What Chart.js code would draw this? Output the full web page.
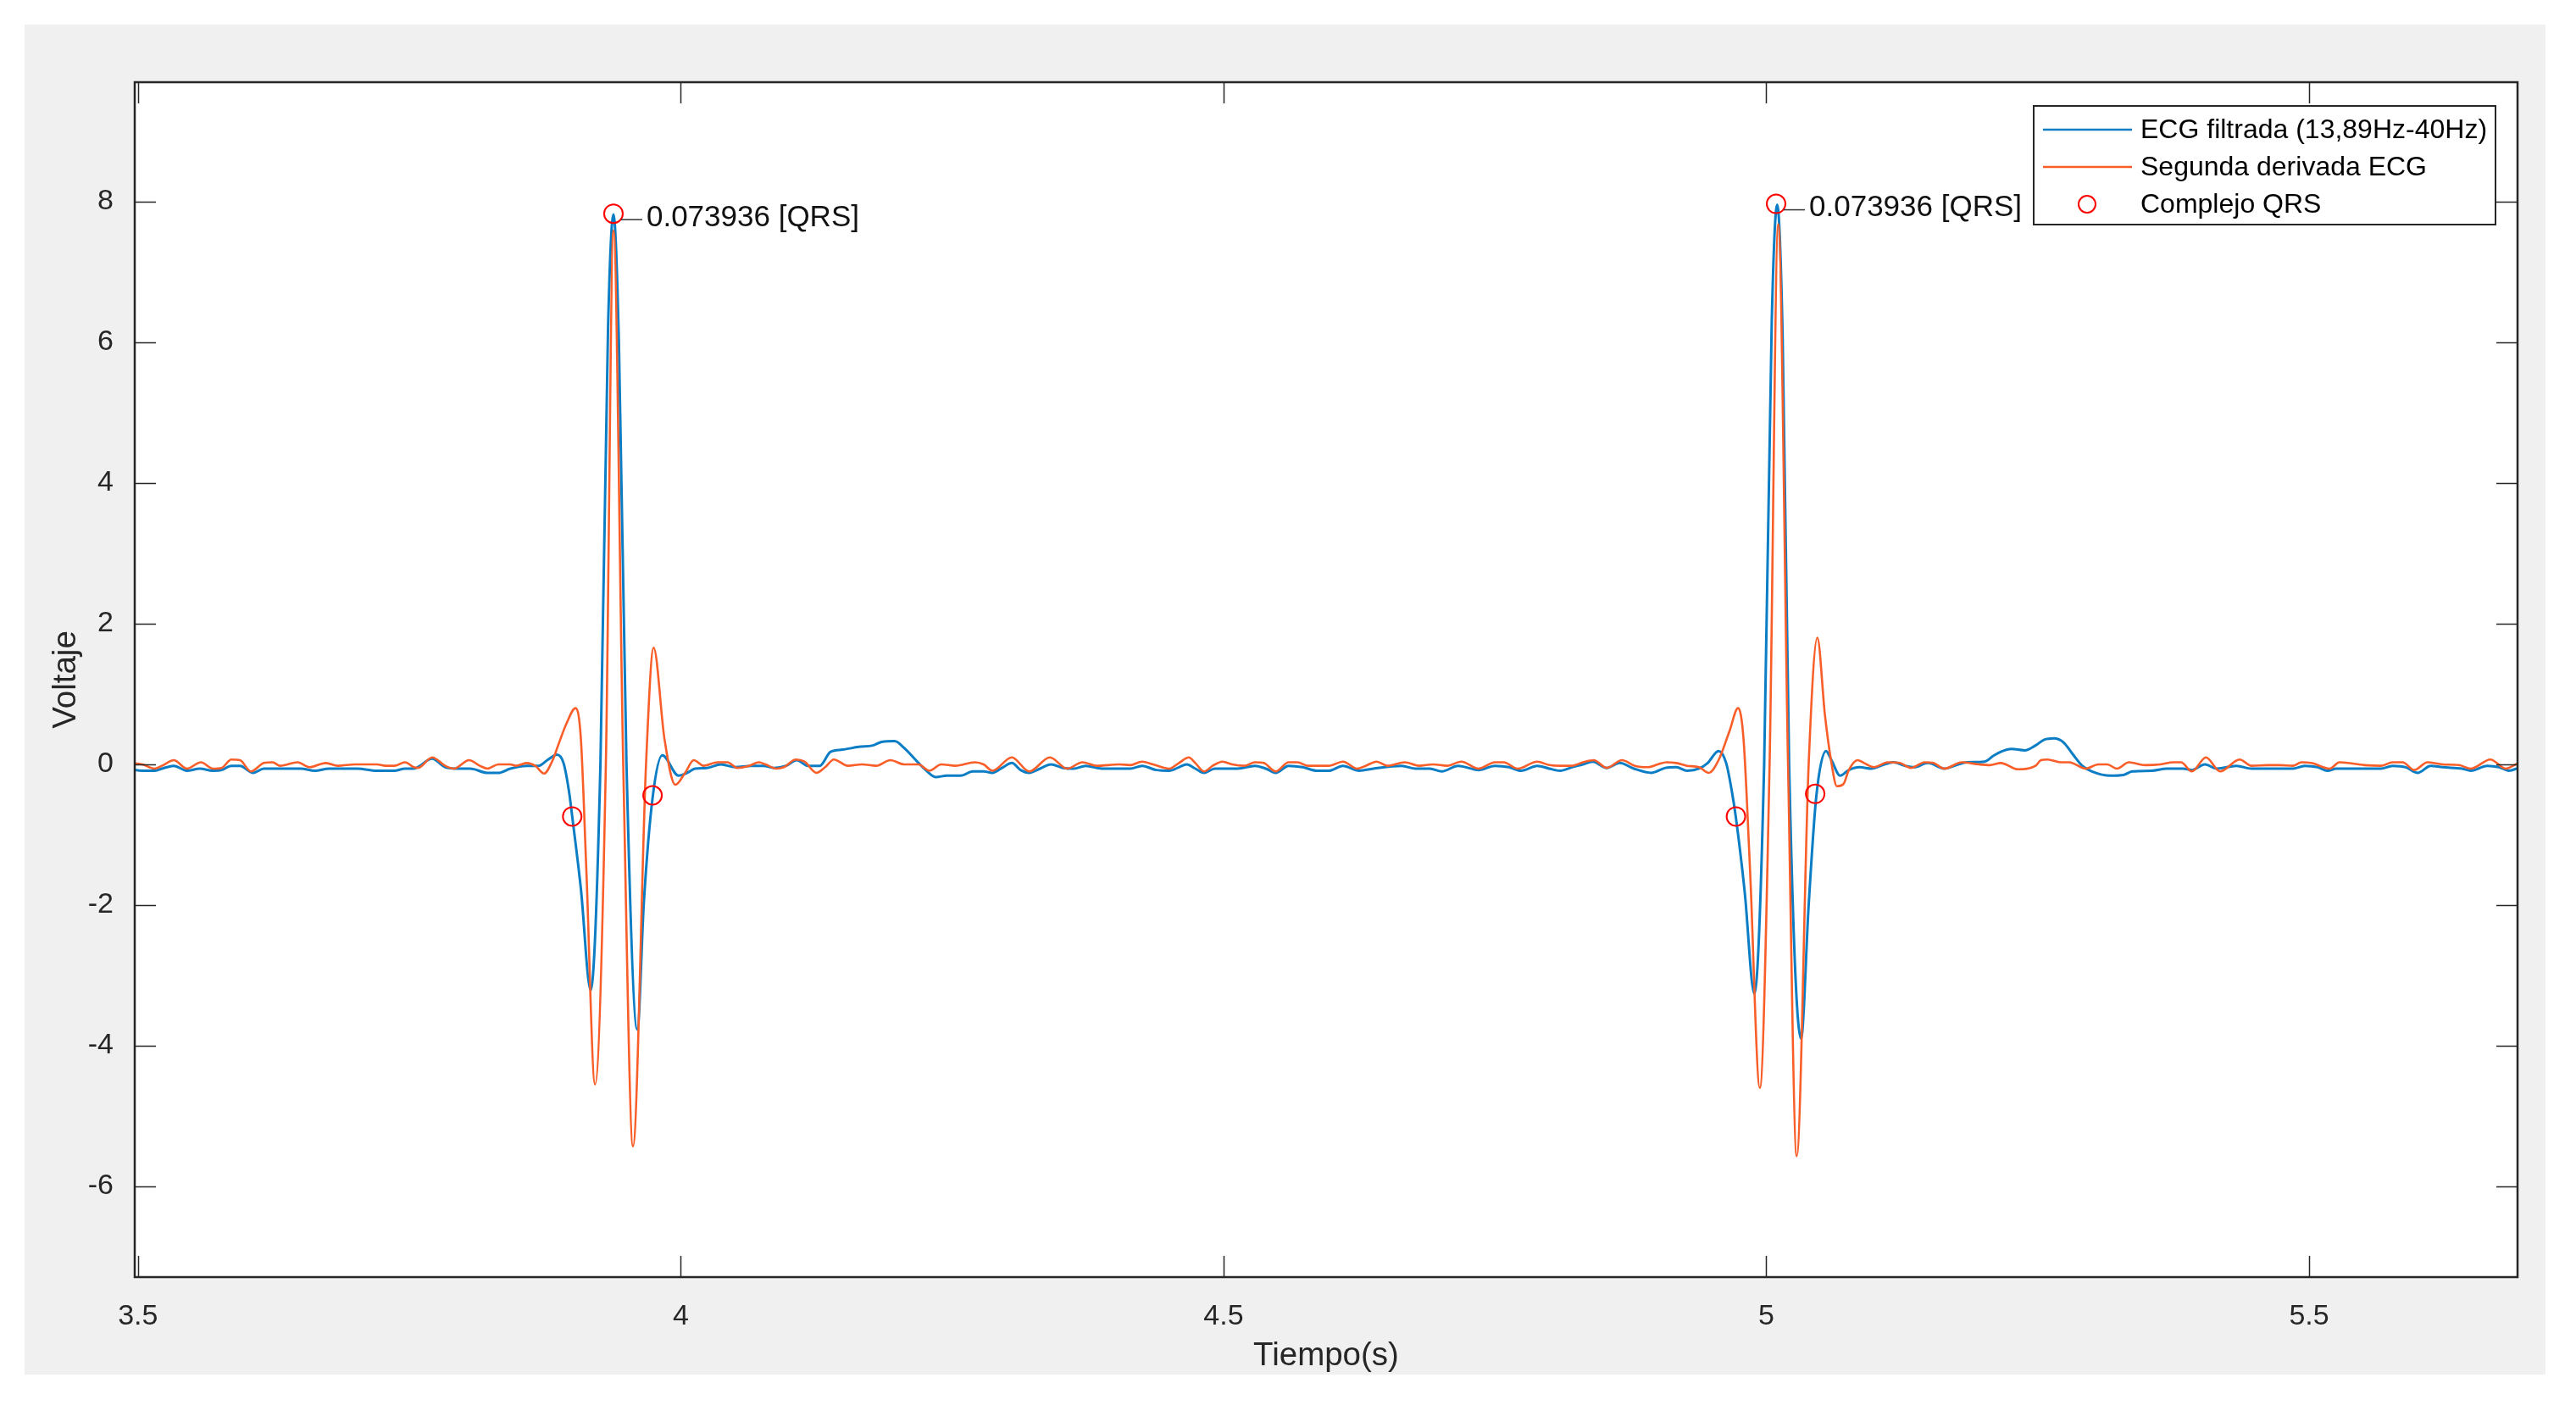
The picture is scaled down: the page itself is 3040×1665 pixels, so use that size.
<!DOCTYPE html>
<html>
<head>
<meta charset="utf-8">
<title>ECG filtrada y segunda derivada</title>
<script src="https://cdn.jsdelivr.net/npm/chart.js@4.4.1/dist/chart.umd.min.js"></script>
<style>
  html, body { margin: 0; padding: 0; background: #ffffff; }
  #grafico { display: block; }
</style>
</head>
<body>
<canvas id="grafico" width="3040" height="1665"></canvas>
<script>
// valores: [tiempo (s), voltaje]
const ecgFiltrada = [
  [3.490, -0.06], [3.504, -0.09], [3.515, -0.09], [3.522, -0.06], [3.533, -0.02], [3.545, -0.09], [3.557, -0.06], [3.569, -0.09], [3.577, -0.08], [3.586, -0.02],
  [3.594, -0.02], [3.606, -0.12], [3.616, -0.06], [3.650, -0.06], [3.663, -0.09], [3.676, -0.06], [3.702, -0.06], [3.720, -0.09], [3.736, -0.09], [3.746, -0.06],
  [3.754, -0.06], [3.771, 0.08], [3.783, -0.04], [3.795, -0.06], [3.806, -0.06], [3.822, -0.12], [3.832, -0.12], [3.843, -0.06], [3.858, -0.02], [3.869, -0.02],
  [3.877, 0.06], [3.886, 0.14], [3.892, 0.02], [3.897, -0.38], [3.900, -0.74], [3.908, -1.77], [3.917, -3.21], [3.926, 0.0], [3.933, 6.2], [3.938, 7.82],
  [3.943, 6.0], [3.950, 0.0], [3.960, -3.77], [3.966, -1.96], [3.974, -0.48], [3.983, 0.13], [3.998, -0.16], [4.006, -0.12], [4.013, -0.06], [4.024, -0.05],
  [4.037, 0.0], [4.050, -0.04],
  [4.065, -0.02], [4.076, -0.02], [4.086, -0.05], [4.097, -0.02], [4.107, 0.06], [4.117, -0.02], [4.128, -0.02], [4.138, 0.18], [4.149, 0.21], [4.164, 0.25],
  [4.177, 0.27], [4.185, 0.32], [4.197, 0.33], [4.206, 0.23], [4.219, 0.02], [4.227, -0.10], [4.235, -0.18], [4.245, -0.16], [4.258, -0.16], [4.269, -0.10],
  [4.279, -0.10], [4.287, -0.12], [4.297, -0.04], [4.305, 0.02], [4.313, -0.08], [4.321, -0.12], [4.331, -0.06], [4.341, 0.0], [4.352, -0.05], [4.362, -0.06],
  [4.373, -0.02], [4.388, -0.06], [4.404, -0.06], [4.414, -0.06], [4.425, -0.02], [4.438, -0.08], [4.450, -0.09], [4.459, -0.04], [4.466, 0.0], [4.474, -0.06],
  [4.482, -0.12], [4.492, -0.06], [4.513, -0.06], [4.529, -0.02], [4.539, -0.06], [4.548, -0.12], [4.560, -0.02], [4.573, -0.04], [4.586, -0.09], [4.597, -0.09],
  [4.610, -0.02], [4.625, -0.09], [4.638, -0.06], [4.664, -0.02], [4.677, -0.06], [4.690, -0.06], [4.701, -0.10], [4.716, -0.02], [4.735, -0.08], [4.750, -0.02],
  [4.763, -0.04], [4.774, -0.09], [4.789, -0.02], [4.800, -0.06], [4.810, -0.09], [4.821, -0.04], [4.831, 0.0], [4.840, 0.04], [4.853, -0.05], [4.865, 0.02],
  [4.878, -0.06], [4.894, -0.12], [4.907, -0.05], [4.917, -0.04], [4.927, -0.09], [4.938, -0.06], [4.946, 0.02], [4.956, 0.19], [4.963, 0.02], [4.968, -0.36],
  [4.972, -0.76], [4.980, -1.80], [4.989, -3.26], [4.998, 0.0], [5.005, 6.3], [5.010, 7.96], [5.015, 6.1], [5.021, 0.0], [5.032, -3.90], [5.039, -2.00],
  [5.046, -0.46], [5.055, 0.19],
  [5.060, 0.06], [5.068, -0.16], [5.076, -0.08], [5.086, -0.04], [5.097, -0.06], [5.107, -0.01], [5.117, 0.03], [5.128, -0.02], [5.136, -0.04], [5.149, 0.02],
  [5.164, -0.06], [5.175, -0.01], [5.185, 0.03], [5.201, 0.04], [5.209, 0.12], [5.216, 0.18], [5.226, 0.22], [5.238, 0.20], [5.248, 0.27], [5.256, 0.35],
  [5.265, 0.37], [5.274, 0.31], [5.282, 0.15], [5.291, -0.02], [5.300, -0.10], [5.317, -0.16], [5.329, -0.15], [5.337, -0.10], [5.355, -0.09], [5.369, -0.06],
  [5.384, -0.06], [5.392, -0.08], [5.404, 0.0], [5.415, -0.06], [5.433, -0.02], [5.447, -0.06], [5.467, -0.06], [5.485, -0.06], [5.496, -0.02], [5.508, -0.04],
  [5.517, -0.09], [5.525, -0.06], [5.551, -0.06], [5.566, -0.06], [5.577, -0.02], [5.589, -0.04], [5.600, -0.12], [5.612, -0.02], [5.623, -0.04], [5.641, -0.06],
  [5.649, -0.09], [5.664, -0.02], [5.675, -0.04], [5.684, -0.09], [5.693, -0.05], [5.700, -0.02]
];

const segundaDerivada = [
  [3.490, 0.02], [3.504, 0.0], [3.515, -0.06], [3.522, -0.02], [3.533, 0.06], [3.545, -0.06], [3.558, 0.03], [3.569, -0.06], [3.577, -0.05], [3.586, 0.07],
  [3.594, 0.06], [3.604, -0.10], [3.616, 0.02], [3.624, 0.03], [3.631, -0.02], [3.647, 0.03], [3.658, -0.04], [3.673, 0.02], [3.684, -0.02], [3.700, 0.0],
  [3.720, 0.0], [3.728, -0.02], [3.736, -0.02], [3.746, 0.03], [3.754, -0.04], [3.758, -0.05], [3.771, 0.10], [3.783, -0.02], [3.791, -0.06], [3.805, 0.06],
  [3.815, -0.02], [3.822, -0.06], [3.832, 0.0], [3.843, 0.0], [3.848, -0.02], [3.858, 0.02], [3.866, -0.02], [3.874, -0.13], [3.882, 0.06], [3.887, 0.27],
  [3.895, 0.59], [3.903, 0.80], [3.908, 0.36], [3.913, -1.49], [3.921, -4.55], [3.931, 0.0], [3.938, 7.59], [3.947, 0.0], [3.956, -5.43], [3.968, 0.0],
  [3.975, 1.66], [3.985, 0.36], [3.995, -0.29], [4.004, -0.12], [4.012, 0.06], [4.021, -0.02], [4.034, 0.03], [4.043, 0.03], [4.052, -0.05], [4.063, -0.02],
  [4.072, 0.03], [4.078, 0.0], [4.088, -0.06], [4.095, -0.04], [4.106, 0.07], [4.114, 0.04], [4.125, -0.12], [4.133, -0.04], [4.141, 0.07], [4.154, -0.02],
  [4.167, 0.0], [4.180, -0.02], [4.193, 0.06], [4.206, 0.0], [4.219, 0.0], [4.229, -0.09], [4.240, 0.0], [4.253, -0.02], [4.271, 0.03], [4.279, 0.0],
  [4.287, -0.09], [4.305, 0.10], [4.321, -0.10], [4.340, 0.10], [4.356, -0.06], [4.370, 0.03], [4.383, -0.02], [4.404, 0.0], [4.414, -0.01], [4.425, 0.04],
  [4.435, 0.0], [4.450, -0.06], [4.459, 0.02], [4.468, 0.10], [4.474, 0.02], [4.482, -0.10], [4.490, -0.02], [4.499, 0.04], [4.508, 0.0], [4.519, -0.02],
  [4.529, 0.03], [4.537, 0.02], [4.548, -0.10], [4.560, 0.03], [4.568, 0.03], [4.578, -0.02], [4.597, -0.02], [4.610, 0.04], [4.623, -0.06], [4.631, -0.02],
  [4.641, 0.04], [4.651, -0.02], [4.667, 0.03], [4.680, -0.02], [4.693, 0.0], [4.706, -0.02], [4.719, 0.04], [4.735, -0.06], [4.750, 0.03], [4.758, 0.03],
  [4.771, -0.06], [4.789, 0.04], [4.800, -0.01], [4.810, -0.02], [4.821, -0.02], [4.831, 0.03], [4.841, 0.06], [4.853, -0.05], [4.867, 0.06], [4.879, -0.02],
  [4.891, -0.04], [4.900, 0.0], [4.908, 0.03], [4.917, 0.02], [4.927, -0.02], [4.938, -0.04], [4.947, -0.12], [4.956, 0.06], [4.966, 0.47], [4.974, 0.80],
  [4.979, 0.36], [4.985, -1.50], [4.994, -4.60], [5.003, 0.0], [5.011, 7.68], [5.020, 0.0], [5.028, -5.57], [5.039, 0.0], [5.047, 1.80], [5.054, 0.70],
  [5.060, 0.02], [5.065, -0.31], [5.071, -0.28], [5.076, -0.08], [5.084, 0.06], [5.090, 0.02], [5.099, -0.04], [5.112, 0.03], [5.123, 0.02], [5.133, -0.05],
  [5.146, 0.03], [5.154, 0.02], [5.164, -0.06], [5.180, 0.03], [5.196, 0.0], [5.206, -0.01], [5.216, 0.02], [5.232, -0.07], [5.248, -0.02], [5.253, 0.06],
  [5.259, 0.07], [5.271, 0.03], [5.279, 0.03], [5.294, -0.06], [5.306, 0.0], [5.314, 0.0], [5.323, -0.06], [5.334, 0.03], [5.349, -0.01], [5.363, 0.0],
  [5.375, 0.03], [5.382, 0.03], [5.392, -0.10], [5.405, 0.10], [5.418, -0.10], [5.436, 0.07], [5.447, -0.02], [5.462, -0.01], [5.473, -0.01], [5.485, -0.02],
  [5.493, 0.03], [5.502, 0.02], [5.519, -0.06], [5.528, 0.03], [5.551, -0.01], [5.566, -0.02], [5.577, 0.03], [5.586, 0.03], [5.597, -0.08], [5.609, 0.03],
  [5.623, 0.0], [5.638, -0.01], [5.649, -0.06], [5.667, 0.07], [5.681, -0.06], [5.693, 0.02], [5.700, 0.03]
];

const tiempoQRS = [3.900, 3.938, 3.974, 4.972, 5.009, 5.045];
const voltajeQRS = [-0.74, 7.83, -0.44, -0.74, 7.97, -0.42];
const etiquetasQRS = ["", "0.073936 [QRS]", "", "", "0.073936 [QRS]", ""];

const nombresSeries = ["ECG filtrada (13,89Hz-40Hz)", "Segunda derivada ECG", "Complejo QRS"];

const AZUL = "#0b7dc5";
const NARANJA = "#f95d28";
const ROJO = "#ff0000";
const GRIS_EJE = "#262626";
const FUENTE = '"Liberation Sans", Arial, Helvetica, sans-serif';

Chart.defaults.font.family = FUENTE;

// fondo gris de la figura y area blanca de los ejes
const fondoFigura = {
  id: "fondoFigura",
  beforeDraw(chart) {
    const { ctx, chartArea: a } = chart;
    ctx.save();
    ctx.fillStyle = "#f0f0f0";
    ctx.fillRect(29, 29, 2975, 1593);
    ctx.fillStyle = "#ffffff";
    ctx.fillRect(a.left, a.top, a.right - a.left, a.bottom - a.top);
    ctx.restore();
  },
};

// caja y marcas hacia adentro en los cuatro lados (estilo MATLAB)
const marcasEjes = {
  id: "marcasEjes",
  afterDraw(chart) {
    const { ctx, chartArea: a, scales } = chart;
    const largo = 25;
    ctx.save();
    ctx.strokeStyle = GRIS_EJE;
    ctx.lineWidth = 1.5;
    ctx.beginPath();
    scales.x.ticks.forEach((t) => {
      const px = Math.round(scales.x.getPixelForValue(t.value)) + 0.5;
      ctx.moveTo(px, a.bottom);
      ctx.lineTo(px, a.bottom - largo);
      ctx.moveTo(px, a.top);
      ctx.lineTo(px, a.top + largo);
    });
    scales.y.ticks.forEach((t) => {
      const py = Math.round(scales.y.getPixelForValue(t.value)) + 0.5;
      ctx.moveTo(a.left, py);
      ctx.lineTo(a.left + largo, py);
      ctx.moveTo(a.right, py);
      ctx.lineTo(a.right - largo, py);
    });
    ctx.stroke();
    ctx.lineWidth = 2.5;
    ctx.strokeRect(a.left, a.top, a.right - a.left, a.bottom - a.top);
    ctx.restore();
  },
};

// texto junto a los picos R
const etiquetasPico = {
  id: "etiquetasPico",
  afterDatasetsDraw(chart) {
    const { ctx } = chart;
    const puntos = chart.getDatasetMeta(2).data;
    ctx.save();
    ctx.font = "35px " + FUENTE;
    ctx.fillStyle = "#111111";
    ctx.strokeStyle = "#333333";
    ctx.lineWidth = 1.5;
    ctx.textAlign = "left";
    ctx.textBaseline = "middle";
    etiquetasQRS.forEach((txt, i) => {
      if (!txt) return;
      const p = puntos[i];
      ctx.beginPath();
      ctx.moveTo(p.x + 9, p.y + 7);
      ctx.lineTo(p.x + 34, p.y + 7);
      ctx.stroke();
      ctx.fillText(txt, p.x + 39, p.y + 5);
    });
    ctx.restore();
  },
};

// leyenda dentro de los ejes, esquina superior derecha
const leyendaMatlab = {
  id: "leyendaMatlab",
  afterDraw(chart) {
    const { ctx, chartArea: a } = chart;
    const ancho = 545, alto = 140;
    const x0 = a.right - 26 - ancho;
    const y0 = a.top + 28;
    const filas = [28, 72, 116];
    ctx.save();
    ctx.fillStyle = "#ffffff";
    ctx.fillRect(x0, y0, ancho, alto);
    ctx.strokeStyle = GRIS_EJE;
    ctx.lineWidth = 2;
    ctx.strokeRect(x0, y0, ancho, alto);
    ctx.font = "32px " + FUENTE;
    ctx.textBaseline = "middle";
    chart.data.datasets.forEach((ds, i) => {
      const y = y0 + filas[i];
      if (i < 2) {
        ctx.strokeStyle = ds.borderColor;
        ctx.lineWidth = 2.5;
        ctx.beginPath();
        ctx.moveTo(x0 + 11, y);
        ctx.lineTo(x0 + 116, y);
        ctx.stroke();
      } else {
        ctx.strokeStyle = ROJO;
        ctx.lineWidth = 2;
        ctx.beginPath();
        ctx.arc(x0 + 63, y, 10, 0, Math.PI * 2);
        ctx.stroke();
      }
      ctx.fillStyle = "#000000";
      ctx.fillText(ds.label, x0 + 126, y + 1);
    });
    ctx.restore();
  },
};

new Chart(document.getElementById("grafico"), {
  type: "line",
  data: {
    datasets: [
      {
        label: nombresSeries[0],
        data: ecgFiltrada.map((p) => ({ x: p[0], y: p[1] })),
        borderColor: AZUL,
        borderWidth: 3,
        pointRadius: 0,
        cubicInterpolationMode: "monotone",
        order: 3,
      },
      {
        label: nombresSeries[1],
        data: segundaDerivada.map((p) => ({ x: p[0], y: p[1] })),
        borderColor: NARANJA,
        borderWidth: 2.6,
        pointRadius: 0,
        cubicInterpolationMode: "monotone",
        order: 2,
      },
      {
        label: nombresSeries[2],
        data: tiempoQRS.map((t, i) => ({ x: t, y: voltajeQRS[i] })),
        showLine: false,
        pointRadius: 11,
        pointBorderWidth: 2,
        pointBorderColor: ROJO,
        pointBackgroundColor: "rgba(0,0,0,0)",
        order: 1,
      },
    ],
  },
  options: {
    responsive: false,
    animation: false,
    devicePixelRatio: 1,
    layout: { padding: { top: 97, right: 69, left: 0, bottom: 0 } },
    plugins: {
      legend: { display: false },
      tooltip: { enabled: false },
    },
    scales: {
      x: {
        type: "linear",
        min: 3.497,
        max: 5.692,
        afterFit: (s) => { s.height = 158; },
        grid: { display: false },
        border: { display: false },
        ticks: {
          stepSize: 0.5,
          includeBounds: false,
          padding: 18,
          maxRotation: 0,
          color: GRIS_EJE,
          font: { size: 34 },
          callback: (v) => String(Math.round(v * 10) / 10),
        },
        title: {
          display: true,
          text: "Tiempo(s)",
          color: GRIS_EJE,
          font: { size: 38.5 },
          padding: { top: 0, bottom: 42 },
        },
      },
      y: {
        type: "linear",
        min: -7.29,
        max: 9.70,
        afterFit: (s) => { s.width = 159; },
        grid: { display: false },
        border: { display: false },
        ticks: {
          stepSize: 2,
          includeBounds: false,
          padding: 17,
          color: GRIS_EJE,
          font: { size: 34 },
        },
        title: {
          display: true,
          text: "Voltaje",
          color: GRIS_EJE,
          font: { size: 38.5 },
          padding: { top: 55, bottom: 0 },
        },
      },
    },
  },
  plugins: [fondoFigura, marcasEjes, etiquetasPico, leyendaMatlab],
});
</script>
</body>
</html>
